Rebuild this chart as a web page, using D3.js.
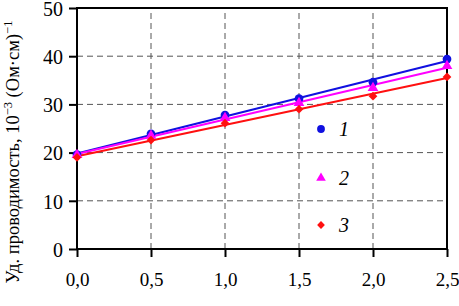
<!DOCTYPE html>
<html><head><meta charset="utf-8">
<script src="https://cdn.jsdelivr.net/npm/d3@7"></script>
<style>body{margin:0;background:#fff}svg{display:block}</style>
</head><body>
<svg id="c" width="459" height="306"></svg>
<script>
const xs = [0, 0.5, 1.0, 1.5, 2.0, 2.5];
const series1 = [19.6, 23.9, 27.8, 31.2, 34.6, 39.4];
const series2 = [19.5, 23.5, 27.2, 30.3, 33.4, 38.0];
const series3 = [19.0, 22.6, 26.1, 29.0, 31.7, 35.7];
const seriesNames = ["1", "2", "3"];
const seriesColors = ["#1010e0", "#ff00ff", "#ff1010"];
const seriesShapes = ["circle", "triangle", "diamond"];
const xTicks = [0, 0.5, 1.0, 1.5, 2.0, 2.5];
const yTicks = [0, 10, 20, 30, 40, 50];

const FONT = '"Liberation Serif", "Times New Roman", serif';
const svg = d3.select("#c");
const m = {l: 77, r: 12, t: 8, b: 57};
const W = 459, H = 306;
const x = d3.scaleLinear().domain([0, 2.5]).range([m.l, W - m.r]);
const y = d3.scaleLinear().domain([0, 50]).range([H - m.b, m.t]);

// grid
const g = svg.append("g");
g.selectAll(".gx").data(xTicks.slice(1, -1)).enter().append("line")
  .attr("x1", d => x(d)).attr("x2", d => x(d)).attr("y1", y(0)).attr("y2", y(50))
  .attr("stroke", "#555").attr("stroke-width", 1).attr("stroke-dasharray", "6,4");
g.selectAll(".gy").data(yTicks.slice(1, -1)).enter().append("line")
  .attr("y1", d => y(d)).attr("y2", d => y(d)).attr("x1", x(0)).attr("x2", x(2.5))
  .attr("stroke", "#555").attr("stroke-width", 1).attr("stroke-dasharray", "6,4");

// axes
const xAxis = d3.axisBottom(x).tickValues(xTicks).tickSize(8).tickPadding(16)
  .tickFormat(d => d3.format(".1f")(d).replace(".", ","));
const yAxis = d3.axisLeft(y).tickValues(yTicks).tickSize(8).tickPadding(6);
const ax = svg.append("g").attr("transform", `translate(0,${y(0)})`).call(xAxis);
const ay = svg.append("g").attr("transform", `translate(${x(0)},0)`).call(yAxis);
[ax, ay].forEach(a => {
  a.attr("font-family", FONT);
  a.select(".domain").remove();
  a.selectAll("line").attr("stroke", "#000").attr("stroke-width", 2);
  a.selectAll("text").style("font-family", FONT).attr("fill", "#000");
});
ax.selectAll("text").style("font-size", "19px");
ay.selectAll("text").style("font-size", "20px").attr("dy", "0.36em");

// frame
svg.append("rect").attr("x", x(0)).attr("y", y(50)).attr("width", x(2.5) - x(0)).attr("height", y(0) - y(50))
  .attr("fill", "none").attr("stroke", "#000").attr("stroke-width", 2);

// data
const all = [series1, series2, series3];
function fit(v) {
  const mx = d3.mean(xs), my = d3.mean(v);
  let sxy = 0, sxx = 0;
  xs.forEach((xi, i) => { sxy += (xi - mx) * (v[i] - my); sxx += (xi - mx) ** 2; });
  const b = sxy / sxx; return [my - b * mx, b];
}
const symType = {circle: d3.symbolCircle, triangle: d3.symbolTriangle, diamond: d3.symbolSquare};
const symRot = {circle: 0, triangle: 0, diamond: 45};
const symSize = {circle: 60, triangle: 50, diamond: 38};
all.forEach((v, k) => {
  const [a, b] = fit(v);
  svg.append("line").attr("x1", x(0)).attr("x2", x(2.5)).attr("y1", y(a)).attr("y2", y(a + b * 2.5))
    .attr("stroke", seriesColors[k]).attr("stroke-width", 2);
});
all.forEach((v, k) => {
  const s = seriesShapes[k];
  svg.selectAll(null).data(xs).enter().append("path")
    .attr("d", d3.symbol().type(symType[s]).size(symSize[s]))
    .attr("transform", (d, i) => `translate(${x(d)},${y(v[i])}) rotate(${symRot[s]})`)
    .attr("fill", seriesColors[k]);
});

// legend
const legY = [129, 178, 225];
seriesNames.forEach((nm, k) => {
  const s = seriesShapes[k];
  svg.append("path").attr("d", d3.symbol().type(symType[s]).size(symSize[s] * 0.8)())
    .attr("transform", `translate(321,${legY[k]}) rotate(${symRot[s]})`).attr("fill", seriesColors[k]);
  svg.append("text").attr("x", 339).attr("y", legY[k] + 7).text(nm)
    .style("font-family", FONT).style("font-size", "20px").style("font-style", "italic");
});

// y title
const yt = svg.append("text").attr("transform", `translate(19,152) rotate(-90)`)
  .attr("text-anchor", "middle").style("font-family", FONT).style("font-size", "18.5px");
yt.append("tspan").text("Уд. проводимость, 10");
yt.append("tspan").attr("dy", -7).style("font-size", "12.5px").text("−3");
yt.append("tspan").attr("dy", 7).text(" (Ом·см)");
yt.append("tspan").attr("dy", -7).style("font-size", "12.5px").text("−1");
</script>
</body></html>
